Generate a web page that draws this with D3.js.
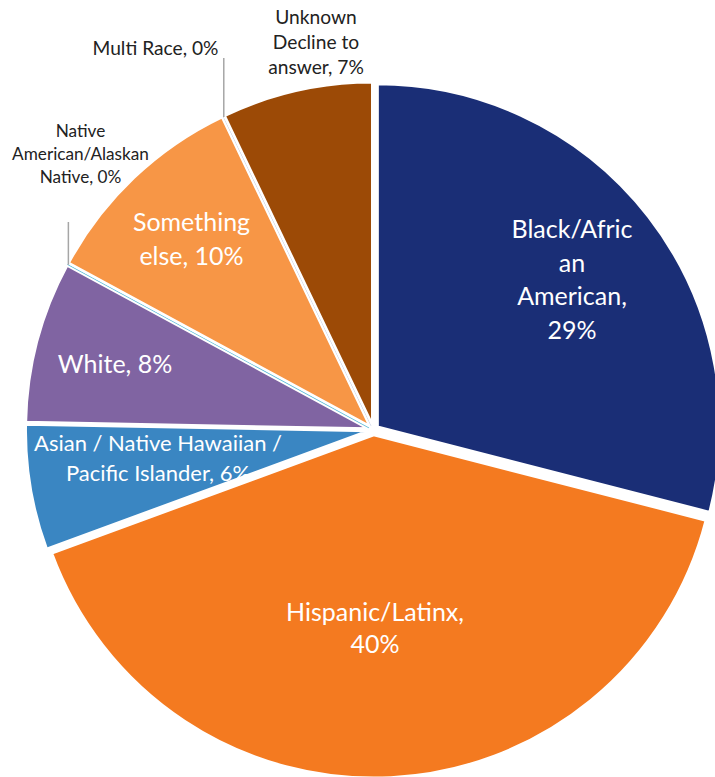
<!DOCTYPE html>
<html>
<head>
<meta charset="utf-8">
<script src="https://cdn.jsdelivr.net/npm/d3@7"></script>
<style>
  html, body { margin: 0; padding: 0; background: #ffffff; }
  svg { display: block; }
</style>
</head>
<body>
<svg id="chart" width="715" height="777"></svg>
<script>
// ---- data ----
const categories = [
  "Black/African American",
  "Hispanic/Latinx",
  "Asian / Native Hawaiian / Pacific Islander",
  "White",
  "Native American/Alaskan Native",
  "Something else",
  "Multi Race",
  "Unknown Decline to answer"
];
const shares = [29.0, 40.4, 5.9, 7.6, 0, 10.0, 0, 7.1];
const sliceColors = ["#1a2e76", "#f47a20", "#3a86c2", "#8064a2", "#5cbcd8", "#f79646", "#aebbd9", "#9c4a06"];
// label text, one entry per line; {p} is replaced by the rounded share
const labelLines = [
  ["Black/Afric", "an", "American,", "{p}"],
  ["Hispanic/Latinx,", "{p}"],
  ["Asian / Native Hawaiian /", "Pacific Islander, {p}"],
  ["White, {p}"],
  ["Native", "American/Alaskan", "Native, {p}"],
  ["Something", "else, {p}"],
  ["Multi Race, {p}"],
  ["Unknown", "Decline to", "answer, {p}"]
];

// ---- layout ----
const W = 715, H = 777;
const cx = 373.5, cy = 430, R = 343, explode = 5;
const FONT = "Lato, 'Open Sans', sans-serif";
// label anchor (centre x, first baseline y), font size, line step, inside/outside, leader end y
const labelLayout = [
  { x: 572,   y: 238, size: 25,   step: 33.7, inside: true },
  { x: 375,   y: 621, size: 25,   step: 32,   inside: true },
  { x: 158,   y: 451, size: 22,   step: 29.5, inside: true },
  { x: 115,   y: 373, size: 25,   step: 33,   inside: true },
  { x: 80.5,  y: 137, size: 17.2, step: 22.8, inside: false, leaderTo: 222 },
  { x: 191.5, y: 231, size: 25,   step: 34.3, inside: true },
  { x: 155.5, y: 55,  size: 19.2, step: 25,   inside: false, leaderTo: 58 },
  { x: 316,   y: 24,  size: 19.2, step: 25,   inside: false }
];

const rows = categories.map((c, i) => ({ name: c, value: shares[i], color: sliceColors[i], lines: labelLines[i], layout: labelLayout[i] }));

const svg = d3.select("#chart");
const g = svg.append("g").attr("transform", `translate(${cx},${cy})`);

const pie = d3.pie().sort(null).value(d => d.value);
const arc = d3.arc().innerRadius(0).outerRadius(R);
const arcs = pie(rows);

const mid = d => (d.startAngle + d.endAngle) / 2;

// exploded slices, each pushed out along its bisector
g.selectAll("path.slice")
  .data(arcs)
  .join("path")
  .attr("class", "slice")
  .attr("d", arc)
  .attr("transform", d => `translate(${explode * Math.sin(mid(d))},${-explode * Math.cos(mid(d))})`)
  .attr("fill", d => d.data.color)
  .attr("stroke", d => d.value === 0 ? d.data.color : "#ffffff")
  .attr("stroke-width", d => d.value === 0 ? 1.2 : 2.8)
  .attr("stroke-linejoin", "miter");

// leader lines for the outside labels of empty slices
arcs.filter(d => d.data.layout.leaderTo !== undefined).forEach(d => {
  const a = mid(d), r = R + explode - 1;
  const x = cx + r * Math.sin(a), y = cy - r * Math.cos(a);
  svg.append("line")
    .attr("x1", x).attr("y1", y)
    .attr("x2", x).attr("y2", d.data.layout.leaderTo)
    .attr("stroke", "#a6a6a6")
    .attr("stroke-width", 1.5);
});

// labels
const total = d3.sum(shares);
arcs.forEach(d => {
  const L = d.data.layout;
  const pct = Math.round(d.value / total * 100) + "%";
  const t = svg.append("text")
    .attr("x", L.x).attr("y", L.y)
    .attr("text-anchor", "middle")
    .attr("font-family", FONT)
    .attr("font-size", L.size)
    .attr("fill", L.inside ? "#ffffff" : "#222222");
  d.data.lines.forEach((line, k) => {
    t.append("tspan")
      .attr("x", L.x)
      .attr("y", L.y + k * L.step)
      .text(line.replace("{p}", pct));
  });
});
</script>
</body>
</html>
